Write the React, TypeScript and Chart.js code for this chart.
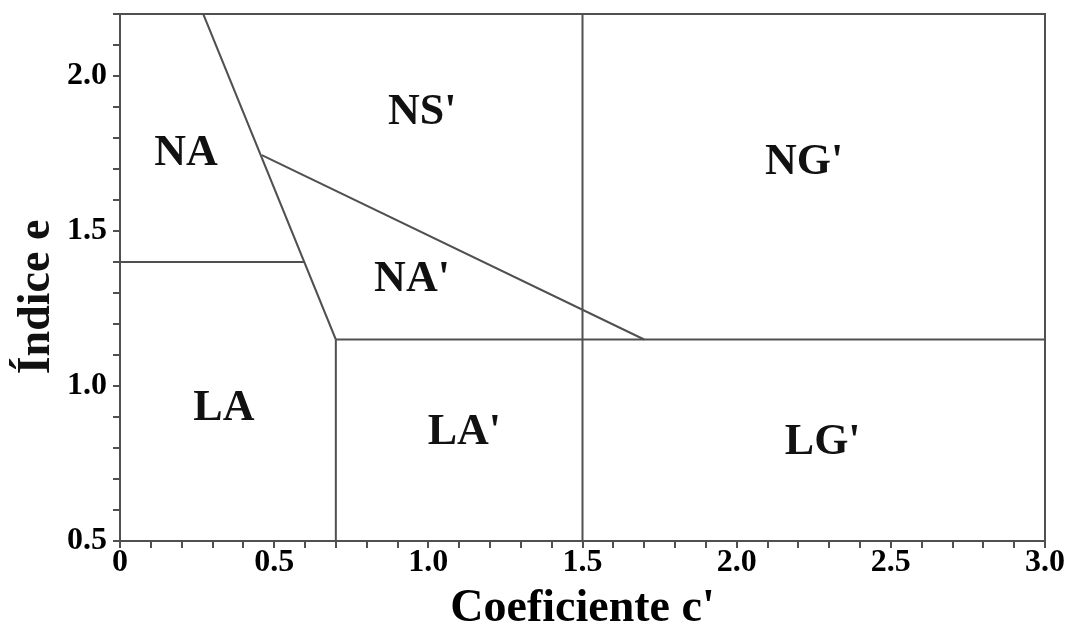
import React, { useEffect, useRef } from 'react';
import { Chart, registerables } from 'chart.js';

Chart.register(...registerables);

// Axis ranges and tick steps
const xRange = [0, 3.0];
const yRange = [0.5, 2.2];
const tickStep = 0.1;
const labelEvery = 5; // label every 0.5

// Boundary lines of the classification diagram (c', e)
const naNsBoundaryX = [0.27, 0.7];
const naNsBoundaryY = [2.2, 1.15];
const naLaBoundaryX = [0, 0.6];
const naLaBoundaryY = [1.4, 1.4];
const nsNaPrimeBoundaryX = [0.46, 1.7];
const nsNaPrimeBoundaryY = [1.745, 1.15];
const eLimitX = [0.7, 3.0];
const eLimitY = [1.15, 1.15];
const cLowX = [0.7, 0.7];
const cLowY = [0.5, 1.15];
const cHighX = [1.5, 1.5];
const cHighY = [0.5, 2.2];

// Region labels
const regionNames = ['NA', "NS'", "NG'", "NA'", 'LA', "LA'", "LG'"];
const regionX = [0.214, 0.98, 2.219, 0.947, 0.337, 1.117, 2.279];
const regionY = [1.748, 1.882, 1.721, 1.342, 0.926, 0.848, 0.816];

const xTitle = "Coeficiente c'";
const yTitle = 'Índice e';

const FONT = '"Liberation Serif", "Times New Roman", serif';
const LINE = '#505050';

const seg = (xs: number[], ys: number[]) => xs.map((x, i) => ({ x, y: ys[i] }));

export default function App() {
  const ref = useRef<HTMLCanvasElement | null>(null);

  useEffect(() => {
    document.body.style.margin = '0';
    const canvas = ref.current;
    if (!canvas) return;

    const lineSets = [
      seg(naNsBoundaryX, naNsBoundaryY),
      seg(naLaBoundaryX, naLaBoundaryY),
      seg(nsNaPrimeBoundaryX, nsNaPrimeBoundaryY),
      seg(eLimitX, eLimitY),
      seg(cLowX, cLowY),
      seg(cHighX, cHighY),
    ];

    const overlay = {
      id: 'overlay',
      afterDatasetsDraw(chart: any) {
        const { ctx, chartArea, scales } = chart;
        ctx.save();
        // frame top/right
        ctx.strokeStyle = LINE;
        ctx.lineWidth = 2;
        ctx.beginPath();
        ctx.moveTo(chartArea.left - 7, chartArea.top);
        ctx.lineTo(chartArea.right, chartArea.top);
        ctx.lineTo(chartArea.right, chartArea.bottom);
        ctx.stroke();
        // region labels
        ctx.fillStyle = '#111';
        ctx.font = `bold 44px ${FONT}`;
        ctx.textAlign = 'center';
        ctx.textBaseline = 'middle';
        regionNames.forEach((n, i) => {
          ctx.fillText(n, scales.x.getPixelForValue(regionX[i]), scales.y.getPixelForValue(regionY[i]));
        });
        // y title
        ctx.font = `bold 46px ${FONT}`;
        ctx.translate(37, 297);
        ctx.rotate(-Math.PI / 2);
        ctx.fillText(yTitle, 0, 0);
        ctx.restore();
      },
    };

    const tickLabel = (v: any) => {
      const k = Math.round(Number(v) * 10);
      if (k % labelEvery !== 0) return '';
      return (k / 10).toFixed(1);
    };

    const chart = new Chart(canvas, {
      type: 'scatter',
      data: {
        datasets: lineSets.map((d) => ({
          data: d,
          showLine: true,
          borderColor: LINE,
          borderWidth: 2,
          pointRadius: 0,
          fill: false,
        })),
      },
      options: {
        animation: false,
        responsive: false,
        layout: { padding: { top: 14, right: 25, left: 0, bottom: 0 } },
        plugins: { legend: { display: false }, tooltip: { enabled: false } },
        scales: {
          x: {
            type: 'linear',
            min: xRange[0],
            max: xRange[1],
            afterFit: (s: any) => { s.height = 85; s.paddingLeft = 0; s.paddingRight = 0; },
            grid: { drawOnChartArea: false, drawTicks: true, tickLength: 7, color: LINE, lineWidth: 2 },
            border: { display: true, color: LINE, width: 2 },
            ticks: {
              stepSize: tickStep,
              autoSkip: false,
              maxRotation: 0,
              padding: 0,
              color: '#000',
              font: { family: FONT, size: 32, weight: 'bold', lineHeight: 0.9 },
              callback: (v: any) => {
                const k = Math.round(Number(v) * 10);
                if (k === 0) return '0';
                return tickLabel(v);
              },
            },
            title: {
              display: true,
              text: xTitle,
              color: '#000',
              padding: 0,
              font: { family: FONT, size: 46, weight: 'bold', lineHeight: 0.72 },
            },
          },
          y: {
            type: 'linear',
            min: yRange[0],
            max: yRange[1],
            afterFit: (s: any) => { s.width = 120; s.paddingTop = 0; s.paddingBottom = 0; },
            grid: { drawOnChartArea: false, drawTicks: true, tickLength: 7, color: LINE, lineWidth: 2 },
            border: { display: true, color: LINE, width: 2 },
            ticks: {
              stepSize: tickStep,
              autoSkip: false,
              padding: 6,
              color: '#000',
              font: { family: FONT, size: 32, weight: 'bold' },
              callback: tickLabel,
            },
          },
        },
      },
      plugins: [overlay],
    } as any);

    return () => chart.destroy();
  }, []);

  return <canvas ref={ref} width={1070} height={626} style={{ display: 'block' }} />;
}
